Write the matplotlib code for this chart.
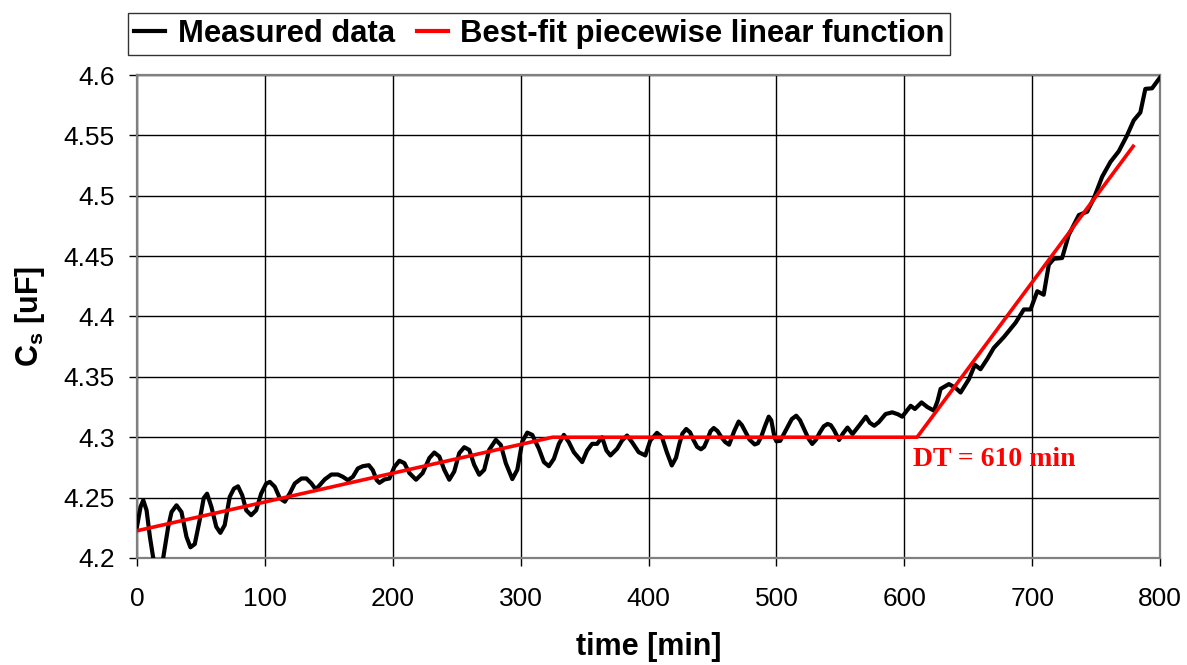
import numpy as np
import matplotlib
matplotlib.use("Agg")
import matplotlib.pyplot as plt

plt.rcParams['font.family'] = ['Liberation Sans', 'DejaVu Sans']
plt.rcParams['mathtext.fontset'] = 'custom'
plt.rcParams['mathtext.rm'] = 'Liberation Sans'
plt.rcParams['mathtext.bf'] = 'Liberation Sans:bold'

# measured capacitance
time_min = [0, 2.8, 4.9, 7.5, 10.1, 12.7, 16.5, 20.5, 24.4, 27, 30.9, 34.8, 38.7, 41.8, 45.2,
            49.1, 52.2, 54.8, 58.2, 62, 65.2, 68.6, 72.5, 75.8, 79, 82.3, 85.4, 89.3, 93.2,
            97.1, 101, 103.9, 107.8, 111.7, 115.6, 119.5, 123.4, 128.6, 132.5, 136.4, 139.8,
            142.9, 146.8, 152, 157.1, 161, 164.9, 168.8, 172.7, 176.6, 181.3, 184.4, 187.5,
            189.6, 193.5, 197.4, 201.3, 205.2, 209.1, 213, 218.2, 223.4, 228.6, 232.5, 236.4,
            240.3, 244.2, 248.1, 252, 255.9, 259.8, 263.7, 267.6, 271.5, 275.4, 280.6, 284.5,
            288.4, 293.5, 297.4, 301.3, 305.2, 309.1, 314.3, 318.2, 322.1, 326, 329.9, 333.8,
            337.7, 341.6, 348.1, 352, 355.9, 359.8, 363.7, 367.1, 370.2, 375.4, 379.3, 383.2,
            387.1, 392.3, 397.5, 401.4, 406.6, 410.5, 414.3, 418.2, 421.5, 424, 426.5, 429.5,
            432.5, 435, 438, 441, 443.5, 446, 448.5, 451, 454, 457, 460, 463, 467, 470.5, 473,
            476, 479, 483, 485.5, 488, 491, 494, 496, 498.5, 500, 503, 508, 512, 515.5, 518.5,
            522, 525, 528, 531, 534, 537, 540, 542.5, 545, 549, 552, 555.6, 559.5, 565, 570,
            573, 576.5, 580, 585.4, 590.6, 595, 598.4, 602, 605, 608.3, 613.5, 618, 623.2, 626,
            628.4, 634.9, 640, 644, 650.5, 655.2, 659.6, 665, 670, 677.9, 687, 693.5, 698.7,
            704, 709, 713, 717, 723.4, 728.6, 736.5, 743, 748.2, 754.7, 761.2, 767.7, 774.2,
            779.4, 784.6, 788.5, 793.75, 800]
cs_uf = [4.2259, 4.2423, 4.2478, 4.2395, 4.2175, 4.2, 4.188, 4.2, 4.2257, 4.238, 4.2436, 4.238,
         4.2175, 4.2088, 4.2115, 4.2317, 4.2496, 4.2532, 4.2423, 4.2258, 4.2208, 4.2272, 4.2505,
         4.2574, 4.2593, 4.2519, 4.2395, 4.2354, 4.2395, 4.2533, 4.2615, 4.263, 4.2589, 4.2494,
         4.2466, 4.2535, 4.2617, 4.2658, 4.2658, 4.2617, 4.2568, 4.2603, 4.265, 4.2691, 4.2691,
         4.2672, 4.2644, 4.2672, 4.2741, 4.276, 4.2768, 4.2727, 4.2644, 4.2622, 4.265, 4.2658,
         4.2754, 4.2805, 4.2785, 4.2703, 4.2648, 4.2703, 4.2827, 4.2873, 4.284, 4.273, 4.2648,
         4.2716, 4.2868, 4.2917, 4.2895, 4.2771, 4.2689, 4.273, 4.2895, 4.2978, 4.2936, 4.2785,
         4.2653, 4.273, 4.2964, 4.3038, 4.3019, 4.2904, 4.2794, 4.276, 4.2821, 4.2945, 4.3019,
         4.2959, 4.2876, 4.2794, 4.289, 4.2945, 4.2945, 4.3, 4.289, 4.2849, 4.2904, 4.2973,
         4.3014, 4.2959, 4.2876, 4.2849, 4.2973, 4.3036, 4.3, 4.2876, 4.2766, 4.283, 4.294,
         4.303, 4.3068, 4.304, 4.298, 4.292, 4.290, 4.292, 4.298, 4.305, 4.3076, 4.305, 4.300,
         4.296, 4.2938, 4.305, 4.313, 4.310, 4.304, 4.298, 4.294, 4.295, 4.300, 4.309, 4.317,
         4.314, 4.300, 4.2966, 4.297, 4.307, 4.315, 4.3178, 4.314, 4.306, 4.299, 4.2944, 4.298,
         4.304, 4.309, 4.311, 4.310, 4.306, 4.2977, 4.303, 4.308, 4.3026, 4.310, 4.317, 4.312,
         4.3095, 4.3124, 4.3192, 4.3206, 4.319, 4.317, 4.322, 4.326, 4.3234, 4.3288, 4.325,
         4.322, 4.330, 4.340, 4.344, 4.341, 4.337, 4.348, 4.360, 4.3563, 4.365, 4.374, 4.383,
         4.3948, 4.4058, 4.4058, 4.4209, 4.418, 4.4429, 4.4478, 4.4484, 4.4676, 4.484, 4.4868,
         4.4978, 4.5157, 4.528, 4.5368, 4.55, 4.5624, 4.569, 4.5885, 4.589, 4.598]

# best-fit piecewise linear function
fit_t = [0, 325, 610, 779]
fit_cs = [4.2225, 4.30, 4.30, 4.541]

fig = plt.figure(figsize=(11.87, 6.65), dpi=100)
ax = fig.add_axes([0.1154, 0.161, 0.8619, 0.7262])

ax.plot(time_min, cs_uf, color='black', lw=3.0, label='Measured data', zorder=3,
        solid_joinstyle='round')
ax.plot(fit_t, fit_cs, color='#ff0000', lw=2.6, label='Best-fit piecewise linear function', zorder=4)

ax.text(607, 4.2765, 'DT = 610 min', color='#ff0000', fontsize=20, fontweight='bold',
        family=['Liberation Serif', 'DejaVu Serif'], va='baseline', ha='left', zorder=5)

ax.set_xlim(0, 800)
ax.set_ylim(4.2, 4.6)
ax.set_xticks(np.arange(0, 801, 100))
ax.set_yticks(np.arange(4.2, 4.601, 0.05))
ax.set_yticklabels(['4.2', '4.25', '4.3', '4.35', '4.4', '4.45', '4.5', '4.55', '4.6'])
ax.grid(True, color='black', lw=1.0)
ax.set_axisbelow(True)
for s in ax.spines.values():
    s.set_color('#808080')
    s.set_linewidth(1.6)
ax.tick_params(axis='both', direction='out', length=6, width=1, color='black', labelsize=19)
ax.tick_params(axis='x', pad=15)
ax.tick_params(axis='y', pad=10)

ax.set_xlabel('time [min]', fontsize=22, fontweight='bold', labelpad=15)
ax.set_ylabel(r'$\mathbf{C_s}$ [uF]', fontsize=22, fontweight='bold', labelpad=12)

leg = ax.legend(loc='lower left', bbox_to_anchor=(0.108, 0.917), bbox_transform=fig.transFigure,
                ncol=2, prop={'weight': 'bold', 'size': 22.3}, frameon=True,
                fancybox=False, edgecolor='black', handlelength=1.0, handletextpad=0.4,
                columnspacing=0.7, borderpad=0.2, borderaxespad=0)
leg.get_frame().set_linewidth(1.0)
for line in leg.get_lines():
    line.set_linewidth(3)

fig.savefig('out.png', dpi=100)
